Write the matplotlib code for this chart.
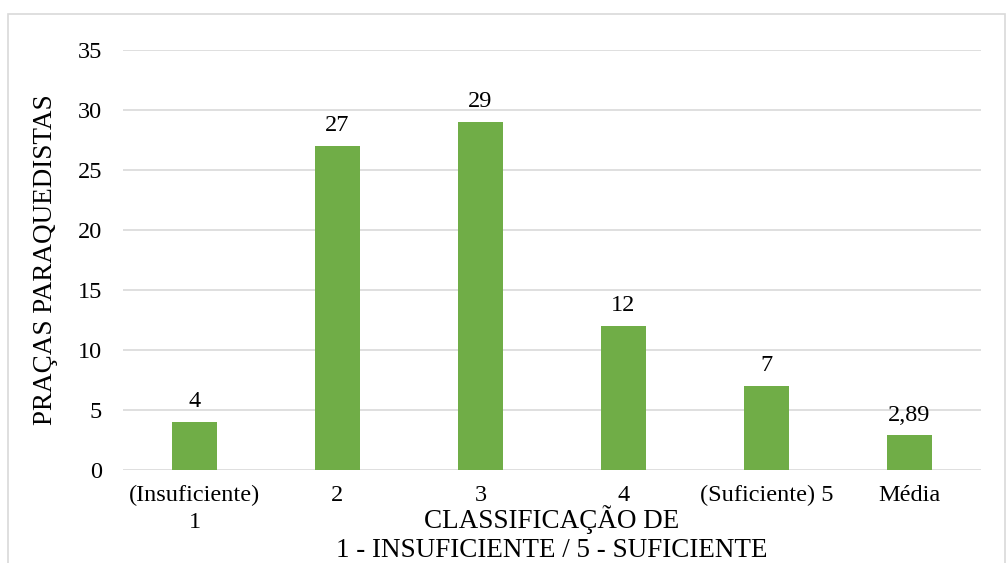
import matplotlib
matplotlib.use('Agg')
import matplotlib.pyplot as plt
from matplotlib.patches import Rectangle

categories = ['(Insuficiente)\n1', '2', '3', '4', '(Suficiente) 5', 'Média']
values = [4, 27, 29, 12, 7, 2.89]
value_labels = ['4', '27', '29', '12', '7', '2,89']
y_ticks = [0, 5, 10, 15, 20, 25, 30, 35]

plt.rcParams['font.family'] = ['Liberation Serif', 'DejaVu Serif']

fig = plt.figure(figsize=(10.07, 5.63), dpi=100)
ax = fig.add_axes([0.1221, 0.1652, 0.8521, 0.746])

x = range(len(categories))
bars = ax.bar(x, values, width=0.31, color='#70AD47', zorder=3)
ax.bar_label(bars, labels=value_labels, padding=7, fontsize=17.5)

ax.set_xlim(-0.5, len(categories) - 0.5)
ax.set_ylim(0, 35)
ax.set_yticks(y_ticks)
ax.set_xticks(list(x))
ax.set_xticklabels(categories, fontsize=17.5, linespacing=1.35)
ax.tick_params(axis='y', labelsize=17.5, length=0, pad=15)
ax.tick_params(axis='x', length=0, pad=11)
ax.grid(axis='y', color='#D9D9D9', linewidth=1.2, zorder=0)
for s in ax.spines.values():
    s.set_visible(False)

ax.set_ylabel('PRAÇAS PARAQUEDISTAS', fontsize=19.5, labelpad=14)
# eixo x: título em duas linhas, colado à borda inferior como no original
fig.text(552 / 1007, 0.0, 'CLASSIFICAÇÃO DE\n1 - INSUFICIENTE / 5 - SUFICIENTE',
         fontsize=19.5, ha='center', va='bottom', linespacing=1.2)

fig.patches.append(Rectangle((8 / 1007, -0.05), 997 / 1007, 1 - 14 / 563 + 0.05,
                             transform=fig.transFigure, fill=False,
                             edgecolor='#D9D9D9', linewidth=1.2))

fig.savefig('out.png', dpi=100)
